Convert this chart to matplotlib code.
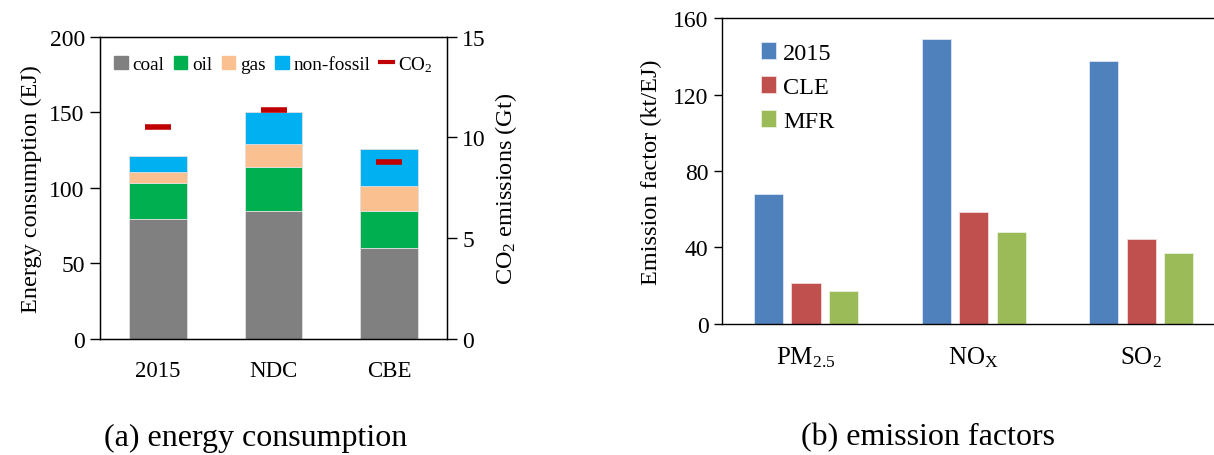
import numpy as np
import matplotlib
matplotlib.use('Agg')
import matplotlib.pyplot as plt
from matplotlib.lines import Line2D
from matplotlib.patches import Patch

plt.rcParams['font.family'] = ['Liberation Serif', 'DejaVu Serif']
plt.rcParams['mathtext.fontset'] = 'custom'
plt.rcParams['mathtext.rm'] = 'Liberation Serif'
plt.rcParams['mathtext.it'] = 'Liberation Serif:italic'
plt.rcParams['mathtext.default'] = 'regular'

# (a) energy consumption, EJ
scenarios = ['2015', 'NDC', 'CBE']
coal = [79.5, 84.5, 60.5]
oil = [23.5, 29.5, 24.0]
gas = [7.5, 15.0, 16.5]
non_fossil = [10.5, 21.0, 25.0]
co2 = [10.5, 11.35, 8.8]   # Gt

# (b) emission factors, kt/EJ
pollutants = ['PM$_{2.5}$', 'NO$_X$', 'SO$_2$']
ef_2015 = [67.7, 149.0, 137.5]
ef_cle = [21.3, 58.3, 44.3]
ef_mfr = [17.3, 48.2, 36.8]

fig = plt.figure(figsize=(12.14, 4.56), dpi=100)

# ---- panel a ----
ax1 = fig.add_axes([0.0824, 0.2544, 0.2858, 0.6629])
x = np.arange(len(scenarios))
w = 0.5
ec = '#e0e0e0'
stack_cols = ['#808080', '#00B050', '#FAC090', '#00B0F0']
bottom = np.zeros(len(scenarios))
for vals, col, lab in zip([coal, oil, gas, non_fossil], stack_cols,
                          ['coal', 'oil', 'gas', 'non-fossil']):
    ax1.bar(x, vals, w, bottom=bottom, color=col, edgecolor=ec, linewidth=0.6, label=lab)
    bottom += np.array(vals)
ax1.set_xlim(-0.5, 2.5)
ax1.set_ylim(0, 200)
ax1.set_yticks([0, 50, 100, 150, 200])
ax1.set_xticks(x)
ax1.set_xticklabels(scenarios)
ax1.tick_params(axis='x', length=0, pad=15, labelsize=16.5)
ax1.tick_params(axis='y', direction='out', length=7, width=1, labelsize=17, pad=4)
ax1.set_ylabel('Energy consumption (EJ)', fontsize=17.5, labelpad=5)
for s in ax1.spines.values():
    s.set_linewidth(1)

ax1b = ax1.twinx()
ax1b.plot(x, co2, linestyle='none', marker='_', markersize=19,
          markeredgewidth=4, color='#C00000')
ax1b.set_ylim(0, 15)
ax1b.set_yticks([0, 5, 10, 15])
ax1b.tick_params(axis='y', direction='out', length=7, width=1, labelsize=17, pad=4)
ax1b.set_ylabel('CO$_2$ emissions (Gt)', fontsize=17.5, labelpad=5)

handles = [Patch(color=c) for c in stack_cols] + \
    [Line2D([], [], color='#C00000', linewidth=3)]
labels = ['coal', 'oil', 'gas', 'non-fossil', 'CO$_2$']
leg = ax1.legend(handles, labels, loc='upper left', bbox_to_anchor=(0.0, 0.99),
                 ncol=5, frameon=False, fontsize=13.8, handlelength=0.7,
                 handleheight=0.7, handletextpad=0.25, columnspacing=0.5,
                 borderaxespad=0.35)

# ---- panel b ----
ax2 = fig.add_axes([0.595, 0.288, 0.405, 0.6697])
xp = np.arange(len(pollutants))
bw = 0.175
off = 0.2236
ax2.bar(xp - off, ef_2015, bw, color='#4F81BD', edgecolor='#dce6f2', linewidth=0.6, label='2015')
ax2.bar(xp, ef_cle, bw, color='#C0504D', edgecolor='#f2dcdb', linewidth=0.6, label='CLE')
ax2.bar(xp + off, ef_mfr, bw, color='#9BBB59', edgecolor='#ebf1de', linewidth=0.6, label='MFR')
ax2.set_xlim(-0.5, 2.434)
ax2.set_ylim(0, 160)
ax2.set_yticks([0, 40, 80, 120, 160])
ax2.set_xticks(xp)
ax2.set_xticklabels(pollutants)
ax2.tick_params(axis='x', length=0, pad=15, labelsize=18)
ax2.tick_params(axis='y', direction='out', length=6, width=1, labelsize=17, pad=4)
ax2.set_ylabel('Emission factor (kt/EJ)', fontsize=17.5, labelpad=8)
ax2.spines['right'].set_visible(False)
for s in ax2.spines.values():
    s.set_linewidth(1)
ax2.legend(loc='upper left', bbox_to_anchor=(0.035, 0.995), frameon=False,
           fontsize=17.5, handlelength=0.6, handleheight=0.7, handletextpad=0.3,
           labelspacing=0.5)

fig.text(256 / 1214, 1 - 438 / 456, '(a) energy consumption', ha='center',
         va='center', fontsize=23)
fig.text(928 / 1214, 1 - 438 / 456, '(b) emission factors', ha='center',
         va='center', fontsize=23)

plt.savefig('out.png', dpi=100)
plt.close()
